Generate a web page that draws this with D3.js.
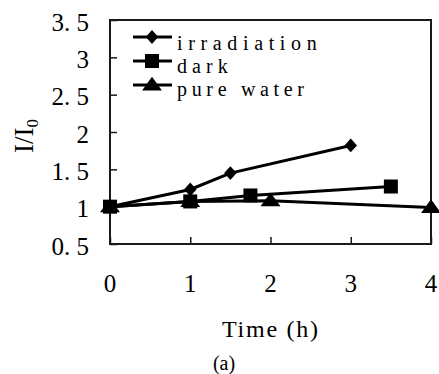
<!DOCTYPE html>
<html>
<head>
<meta charset="utf-8">
<script src="https://cdn.jsdelivr.net/npm/d3@7/dist/d3.min.js"></script>
<style>
  html, body { margin: 0; padding: 0; background: #fff; }
  svg { display: block; }
  text { font-family: "Liberation Serif", "Times New Roman", serif; fill: #000; }
</style>
</head>
<body>
<div id="chart"></div>
<script>
// ---- data ----
const xTicks = [0, 1, 2, 3, 4];
const yTicks = [0.5, 1, 1.5, 2, 2.5, 3, 3.5];
const yTickLabels = ["0. 5", "1", "1. 5", "2", "2. 5", "3", "3. 5"];
const seriesNames = ["irradiation", "dark", "pure water"];
const irradiationX = [0, 1, 1.5, 3];
const irradiationY = [1.0, 1.23, 1.45, 1.82];
const darkX = [0, 1, 1.75, 3.5];
const darkY = [1.0, 1.07, 1.15, 1.27];
const waterX = [0, 1, 2, 4];
const waterY = [1.0, 1.07, 1.08, 0.99];
const xTitle = "Time (h)";
const yTitle = "I/I";
const yTitleSub = "0";
const caption = "(a)";

// ---- layout ----
const W = 439, H = 374;
const L = 110, R = 431, T = 20, B = 244;

const svg = d3.select("#chart").append("svg").attr("width", W).attr("height", H);

const x = d3.scaleLinear().domain([0, 4]).range([L, R]);
const y = d3.scaleLinear().domain([0.5, 3.5]).range([B, T]);

// frame
svg.append("rect").attr("x", L).attr("y", T).attr("width", R - L).attr("height", B - T)
  .attr("fill", "none").attr("stroke", "#1a1a1a").attr("stroke-width", 2);

// axes with inward ticks
const xAxis = d3.axisBottom(x).tickValues(xTicks).tickSize(-7).tickFormat("");
const gx = svg.append("g").attr("transform", `translate(0,${B})`).call(xAxis);
gx.select(".domain").remove();
gx.selectAll(".tick line").attr("stroke", "#1a1a1a").attr("stroke-width", 1.5);

const yAxis = d3.axisLeft(y).tickValues(yTicks).tickSize(-7).tickFormat("");
const gy = svg.append("g").attr("transform", `translate(${L},0)`).call(yAxis);
gy.select(".domain").remove();
gy.selectAll(".tick line").attr("stroke", "#1a1a1a").attr("stroke-width", 1.5);

// tick labels
svg.append("g").selectAll("text").data(xTicks).join("text")
  .attr("x", d => x(d)).attr("y", 291.5)
  .attr("text-anchor", "middle").attr("font-size", 25)
  .text(d => d);

svg.append("g").selectAll("text").data(yTicks).join("text")
  .attr("x", 89).attr("y", d => y(d) + 10.5)
  .attr("text-anchor", "end").attr("font-size", 25)
  .text((d, i) => yTickLabels[i]);

// axis titles
svg.append("text").attr("x", 222).attr("y", 336.5).attr("font-size", 24)
  .attr("textLength", 96).attr("lengthAdjust", "spacing").text(xTitle);

const yt = svg.append("text").attr("transform", "translate(33,153) rotate(-90)")
  .attr("font-size", 27);
yt.append("tspan").text(yTitle);
yt.append("tspan").attr("font-size", 17).attr("dy", 5).text(yTitleSub);

svg.append("text").attr("x", 224).attr("y", 370).attr("text-anchor", "middle")
  .attr("font-size", 20).text(caption);

// ---- series ----
const line = d3.line().x(d => x(d[0])).y(d => y(d[1]));
const sym = {
  diamond: d3.symbol().type(d3.symbolDiamond2).size(110),
  square: d3.symbol().type(d3.symbolSquare).size(196),
  triangle: d3.symbol().type(d3.symbolTriangle).size(110)
};

const series = [
  { name: seriesNames[0], pts: d3.zip(irradiationX, irradiationY), shape: "diamond" },
  { name: seriesNames[2], pts: d3.zip(waterX, waterY), shape: "triangle" },
  { name: seriesNames[1], pts: d3.zip(darkX, darkY), shape: "square" }
];

function drawSymbol(g, shape, cx, cy) {
  const p = g.append("path").attr("d", sym[shape]()).attr("fill", "#000");
  if (shape === "diamond") p.attr("transform", `translate(${cx},${cy}) scale(0.95,1.05)`);
  else if (shape === "triangle") p.attr("transform", `translate(${cx},${cy + 1}) scale(1.25,1.0)`);
  else p.attr("transform", `translate(${cx},${cy})`);
}

series.forEach(s => {
  const g = svg.append("g");
  g.append("path").datum(s.pts).attr("d", line)
    .attr("fill", "none").attr("stroke", "#000").attr("stroke-width", 3);
  s.pts.forEach(p => drawSymbol(g, s.shape, x(p[0]), y(p[1])));
});

// ---- legend ----
const legendItems = [
  { name: seriesNames[0], shape: "diamond" },
  { name: seriesNames[1], shape: "square" },
  { name: seriesNames[2], shape: "triangle" }
];
const lineYs = [37, 61, 85];
const textYs = [50, 73, 96];
const lg = svg.append("g");
legendItems.forEach((it, i) => {
  lg.append("line").attr("x1", 133).attr("x2", 172).attr("y1", lineYs[i]).attr("y2", lineYs[i])
    .attr("stroke", "#000").attr("stroke-width", 3);
  drawSymbol(lg, it.shape, 152, lineYs[i]);
  lg.append("text").attr("x", 177).attr("y", textYs[i]).attr("font-size", 20)
    .attr("textLength", it.name.length * 12.7).attr("lengthAdjust", "spacing")
    .text(it.name);
});
</script>
</body>
</html>
